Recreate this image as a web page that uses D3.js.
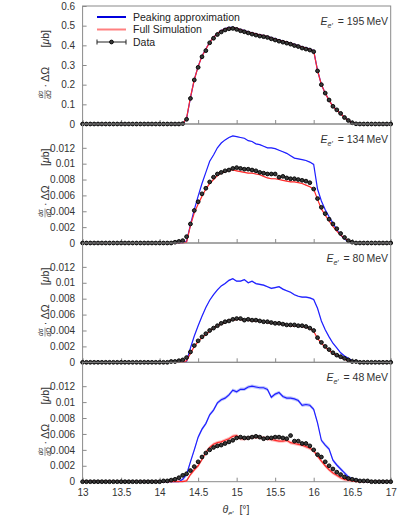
<!DOCTYPE html>
<html>
<head>
<meta charset="utf-8">
<script src="https://cdn.jsdelivr.net/npm/d3@7"></script>
<style>
  body { margin: 0; background: #fff; }
  svg { display: block; font-family: "Liberation Sans", Arial, sans-serif; }
</style>
</head>
<body>
<svg id="chart" width="399" height="515"></svg>
<script>
// Scattering angle grid (deg), one row of 10 per line
const theta = [
  13, 13.05, 13.1, 13.15, 13.2, 13.25, 13.3, 13.35, 13.4, 13.45,
  13.5, 13.55, 13.6, 13.65, 13.7, 13.75, 13.8, 13.85, 13.9, 13.95,
  14, 14.05, 14.1, 14.15, 14.2, 14.25, 14.3, 14.35, 14.4, 14.45,
  14.5, 14.55, 14.6, 14.65, 14.7, 14.75, 14.8, 14.85, 14.9, 14.95,
  15, 15.05, 15.1, 15.15, 15.2, 15.25, 15.3, 15.35, 15.4, 15.45,
  15.5, 15.55, 15.6, 15.65, 15.7, 15.75, 15.8, 15.85, 15.9, 15.95,
  16, 16.05, 16.1, 16.15, 16.2, 16.25, 16.3, 16.35, 16.4, 16.45,
  16.5, 16.55, 16.6, 16.65, 16.7, 16.75, 16.8, 16.85, 16.9, 16.95,
  17
];

const energies = ['195', '134', '80', '48'];
const yMaxes = [0.6, 0.015, 0.015, 0.015];
const yTicksTop = [0, 0.1, 0.2, 0.3, 0.4, 0.5, 0.6];
const yTicksLow = [0, 0.002, 0.004, 0.006, 0.008, 0.01, 0.012];
const xTicks = [13, 13.5, 14, 14.5, 15, 15.5, 16, 16.5, 17];
// half width of the simulation uncertainty bands
const bandHalf = [0, 0.00005, 0.0001, 0.00022];

// ---- E = 195 MeV
const data195 = [
  0, 0, 0, 0, 0, 0, 0, 0, 0, 0,
  0, 0, 0, 0, 0, 0, 0, 0, 0, 0,
  0, 0, 0, 0, 0, 0, 0.002, 0.024, 0.13, 0.224,
  0.288, 0.342, 0.373, 0.413, 0.436, 0.455, 0.468, 0.478, 0.484, 0.486,
  0.481, 0.474, 0.469, 0.463, 0.457, 0.452, 0.447, 0.444, 0.44, 0.433,
  0.427, 0.421, 0.416, 0.411, 0.406, 0.399, 0.394, 0.386, 0.381, 0.376,
  0.368, 0.27, 0.2, 0.157, 0.122, 0.09, 0.072, 0.054, 0.033, 0.018,
  0.006, 0.001, 0, 0, 0, 0, 0, 0, 0, 0,
  0
];
const sim195 = [
  0, 0, 0, 0, 0, 0, 0, 0, 0, 0,
  0, 0, 0, 0, 0, 0, 0, 0, 0, 0,
  0, 0, 0, 0, 0, 0, 0, 0.03, 0.135, 0.225,
  0.292, 0.345, 0.38, 0.415, 0.44, 0.46, 0.474, 0.484, 0.49, 0.49,
  0.486, 0.48, 0.474, 0.468, 0.463, 0.458, 0.453, 0.449, 0.444, 0.438,
  0.432, 0.427, 0.421, 0.416, 0.41, 0.404, 0.398, 0.392, 0.386, 0.381,
  0.372, 0.272, 0.2, 0.156, 0.12, 0.09, 0.07, 0.052, 0.033, 0.017,
  0.006, 0.001, 0, 0, 0, 0, 0, 0, 0, 0,
  0
];
const peak195 = [
  0, 0, 0, 0, 0, 0, 0, 0, 0, 0,
  0, 0, 0, 0, 0, 0, 0, 0, 0, 0,
  0, 0, 0, 0, 0, 0, 0, 0.028, 0.133, 0.226,
  0.293, 0.346, 0.381, 0.416, 0.441, 0.461, 0.475, 0.485, 0.491, 0.491,
  0.487, 0.481, 0.475, 0.469, 0.464, 0.459, 0.454, 0.45, 0.445, 0.439,
  0.433, 0.428, 0.422, 0.417, 0.411, 0.405, 0.399, 0.393, 0.387, 0.382,
  0.373, 0.273, 0.201, 0.157, 0.121, 0.091, 0.071, 0.053, 0.034, 0.018,
  0.006, 0.001, 0, 0, 0, 0, 0, 0, 0, 0,
  0
];

// ---- E = 134 MeV
const data134 = [
  0, 0, 0, 0, 0, 0, 0, 0, 0, 0,
  0, 0, 0, 0, 0, 0, 0, 0, 0, 0,
  0, 0, 0, 0, 0.0001, 0.0002, 0.0003, 0.0008, 0.0024, 0.0041,
  0.0052, 0.0062, 0.0069, 0.0077, 0.0083, 0.0087, 0.0089, 0.0091, 0.0092, 0.0094,
  0.0095, 0.0094, 0.0093, 0.0093, 0.0092, 0.0091, 0.0089, 0.0088, 0.0087, 0.0087,
  0.0087, 0.0083, 0.0084, 0.0082, 0.0081, 0.0081, 0.008, 0.0079, 0.0078, 0.0076,
  0.0068, 0.0056, 0.0045, 0.0037, 0.003, 0.0024, 0.0018, 0.0012, 0.0007, 0.0003,
  0.0001, 0, 0, 0, 0, 0, 0, 0, 0, 0,
  0
];
const sim134 = [
  0, 0, 0, 0, 0, 0, 0, 0, 0, 0,
  0, 0, 0, 0, 0, 0, 0, 0, 0, 0,
  0, 0, 0, 0, 0, 0, 0, 0.0001, 0.0022, 0.0038,
  0.0049, 0.0059, 0.0068, 0.0075, 0.008, 0.0085, 0.0088, 0.009, 0.0092, 0.0092,
  0.0091, 0.009, 0.0089, 0.0088, 0.0088, 0.0087, 0.0086, 0.0084, 0.0082, 0.0081,
  0.0081, 0.008, 0.0079, 0.0078, 0.0077, 0.0077, 0.0076, 0.0075, 0.0073, 0.0071,
  0.0068, 0.0055, 0.0043, 0.0035, 0.0028, 0.0021, 0.0015, 0.001, 0.0006, 0.0003,
  0.0001, 0, 0, 0, 0, 0, 0, 0, 0, 0,
  0
];
const peak134 = [
  0, 0, 0, 0, 0, 0, 0, 0, 0, 0,
  0, 0, 0, 0, 0, 0, 0, 0, 0, 0,
  0, 0, 0, 0, 0, 0, 0, 0.0002, 0.0023, 0.0042,
  0.0059, 0.0075, 0.0089, 0.0103, 0.0111, 0.012, 0.0126, 0.013, 0.0133, 0.0135,
  0.0134, 0.0133, 0.0132, 0.0129, 0.0128, 0.0125, 0.0124, 0.0122, 0.012, 0.012,
  0.0119, 0.0117, 0.0115, 0.0113, 0.011, 0.0107, 0.0106, 0.0105, 0.0104, 0.0102,
  0.0099, 0.0068, 0.0053, 0.0042, 0.0033, 0.0025, 0.0017, 0.001, 0.0005, 0.0002,
  0.0001, 0, 0, 0, 0, 0, 0, 0, 0, 0,
  0
];

// ---- E = 80 MeV
const data80 = [
  0, 0, 0, 0, 0, 0, 0, 0, 0, 0,
  0, 0, 0, 0, 0, 0, 0, 0, 0, 0,
  0, 0, 0, 0.0001, 0.0001, 0.0002, 0.0003, 0.0006, 0.0013, 0.0021,
  0.0027, 0.0032, 0.0036, 0.004, 0.0043, 0.0046, 0.0049, 0.0051, 0.0052, 0.0054,
  0.0055, 0.0055, 0.0053, 0.0054, 0.0053, 0.0053, 0.0052, 0.0051, 0.0051, 0.005,
  0.0049, 0.0049, 0.0048, 0.0047, 0.0047, 0.0047, 0.0046, 0.0046, 0.0045, 0.0043,
  0.004, 0.0031, 0.0025, 0.002, 0.0016, 0.0012, 0.0009, 0.0007, 0.0005, 0.0003,
  0.0001, 0.0001, 0, 0, 0, 0, 0, 0, 0, 0,
  0
];
const sim80 = [
  0, 0, 0, 0, 0, 0, 0, 0, 0, 0,
  0, 0, 0, 0, 0, 0, 0, 0, 0, 0,
  0, 0, 0, 0, 0, 0, 0, 0.0002, 0.0011, 0.002,
  0.0026, 0.0031, 0.0035, 0.0039, 0.0043, 0.0046, 0.0048, 0.005, 0.0053, 0.0053,
  0.0054, 0.0054, 0.0053, 0.0053, 0.0052, 0.0052, 0.0052, 0.0051, 0.005, 0.0049,
  0.005, 0.0048, 0.0048, 0.0047, 0.0046, 0.0046, 0.0046, 0.0045, 0.0044, 0.0043,
  0.0039, 0.003, 0.0024, 0.0019, 0.0015, 0.0011, 0.0009, 0.0006, 0.0004, 0.0002,
  0.0001, 0, 0, 0, 0, 0, 0, 0, 0, 0,
  0
];
const peak80 = [
  0, 0, 0, 0, 0, 0, 0, 0, 0, 0,
  0, 0, 0, 0, 0, 0, 0, 0, 0, 0,
  0, 0, 0, 0, 0, 0, 0, 0.0001, 0.0018, 0.0033,
  0.0046, 0.0058, 0.0069, 0.0078, 0.0085, 0.0091, 0.0096, 0.0099, 0.0103, 0.0105,
  0.0102, 0.0102, 0.0104, 0.01, 0.0102, 0.0099, 0.0098, 0.0097, 0.0095, 0.0093,
  0.0094, 0.0095, 0.0092, 0.009, 0.0088, 0.0085, 0.0083, 0.0082, 0.0082, 0.0081,
  0.0079, 0.0068, 0.0052, 0.0041, 0.0032, 0.0024, 0.0018, 0.0012, 0.0008, 0.0005,
  0.0002, 0.0001, 0, 0, 0, 0, 0, 0, 0, 0,
  0
];

// ---- E = 48 MeV
const data48 = [
  0, 0, 0, 0, 0, 0, 0, 0, 0, 0,
  0, 0, 0, 0, 0, 0, 0, 0, 0, 0,
  0, 0.0001, 0.0001, 0.0002, 0.0003, 0.0005, 0.0008, 0.001, 0.0014, 0.0019,
  0.0025, 0.0031, 0.0036, 0.004, 0.0043, 0.0045, 0.0046, 0.0048, 0.005, 0.0052,
  0.0055, 0.0056, 0.0055, 0.0055, 0.0056, 0.0057, 0.0056, 0.0054, 0.0055, 0.0055,
  0.0056, 0.0056, 0.0055, 0.0054, 0.0058, 0.0051, 0.0051, 0.0048, 0.0048, 0.0045,
  0.004, 0.0034, 0.0031, 0.0025, 0.002, 0.0016, 0.0012, 0.0009, 0.0006, 0.0004,
  0.0003, 0.0002, 0.0001, 0.0001, 0.0001, 0, 0, 0, 0, 0,
  0
];
const sim48 = [
  0, 0, 0, 0, 0, 0, 0, 0, 0, 0,
  0, 0, 0, 0, 0, 0, 0, 0, 0, 0,
  0, 0, 0, 0, 0, 0, 0, 0.0001, 0.0009, 0.0015,
  0.002, 0.0028, 0.0037, 0.0043, 0.0047, 0.0049, 0.005, 0.0052, 0.0054, 0.0057,
  0.0058, 0.0054, 0.0054, 0.0055, 0.0056, 0.0056, 0.0056, 0.0055, 0.0054, 0.0053,
  0.0052, 0.0051, 0.0051, 0.0052, 0.0049, 0.0048, 0.0047, 0.0046, 0.0044, 0.0042,
  0.0039, 0.0032, 0.0026, 0.002, 0.0015, 0.0011, 0.0008, 0.0005, 0.0003, 0.0002,
  0.0001, 0, 0, 0, 0, 0, 0, 0, 0, 0,
  0
];
const peak48 = [
  0, 0, 0, 0, 0, 0, 0, 0, 0, 0,
  0, 0, 0, 0, 0, 0, 0, 0, 0, 0,
  0, 0, 0, 0, 0, 0, 0.0003, 0.0009, 0.0025, 0.004,
  0.0056, 0.0066, 0.0073, 0.0084, 0.009, 0.0099, 0.0103, 0.0105, 0.0109, 0.0115,
  0.0113, 0.0116, 0.0116, 0.0119, 0.012, 0.0119, 0.0118, 0.0118, 0.0116, 0.0106,
  0.011, 0.0112, 0.0107, 0.0105, 0.0105, 0.0104, 0.0102, 0.0096, 0.0097, 0.0096,
  0.0091, 0.0074, 0.0052, 0.0046, 0.0041, 0.0027, 0.0021, 0.0016, 0.0011, 0.0006,
  0.0003, 0.0002, 0.0001, 0, 0, 0, 0, 0, 0, 0,
  0
];

const panels = [
  { energy: energies[0], data: data195, sim: sim195, peak: peak195, yMax: yMaxes[0], ticks: yTicksTop, band: bandHalf[0] },
  { energy: energies[1], data: data134, sim: sim134, peak: peak134, yMax: yMaxes[1], ticks: yTicksLow, band: bandHalf[1] },
  { energy: energies[2], data: data80, sim: sim80, peak: peak80, yMax: yMaxes[2], ticks: yTicksLow, band: bandHalf[2] },
  { energy: energies[3], data: data48, sim: sim48, peak: peak48, yMax: yMaxes[3], ticks: yTicksLow, band: bandHalf[3] }
];

// Layout
const left = 82.6;
const right = 390.7;
const tops = [6, 124, 243, 362.3];
const bottoms = [124, 243, 362.3, 481.7];

const blue = '#1f1fff';
const red = '#ff2a2a';
const frameColor = '#8a8a8a';
const textColor = '#333';

const svg = d3.select('#chart');

const x = d3.scaleLinear().domain([13, 17]).range([left, right]);

panels.forEach((p, k) => {
  const top = tops[k];
  const bottom = bottoms[k];
  const y = d3.scaleLinear().domain([0, p.yMax]).range([bottom, top]);
  const g = svg.append('g');

  // frame
  g.append('rect')
    .attr('x', left)
    .attr('y', top)
    .attr('width', right - left)
    .attr('height', bottom - top)
    .attr('fill', 'none')
    .attr('stroke', frameColor)
    .attr('stroke-width', 1);

  // y axis, ticks pointing inward
  const yAxis = g.append('g')
    .attr('transform', `translate(${left},0)`)
    .call(d3.axisLeft(y)
      .tickValues(p.ticks)
      .tickFormat(d3.format('~g'))
      .tickSizeInner(-4)
      .tickSizeOuter(0)
      .tickPadding(7.5));
  yAxis.select('.domain').remove();
  yAxis.selectAll('line').attr('stroke', frameColor);
  yAxis.selectAll('text')
    .attr('fill', textColor)
    .attr('font-size', 10)
    .attr('font-family', '"Liberation Sans", Arial, sans-serif');

  // x axis ticks on every panel, labels only on the last
  const last = k === panels.length - 1;
  const xAxis = g.append('g')
    .attr('transform', `translate(0,${bottom})`)
    .call(d3.axisBottom(x)
      .tickValues(xTicks)
      .tickFormat(last ? d3.format('~g') : () => '')
      .tickSizeInner(-4)
      .tickSizeOuter(0)
      .tickPadding(7));
  xAxis.select('.domain').remove();
  xAxis.selectAll('line').attr('stroke', frameColor);
  xAxis.selectAll('text')
    .attr('fill', textColor)
    .attr('font-size', 10)
    .attr('font-family', '"Liberation Sans", Arial, sans-serif');

  const idx = d3.range(theta.length);

  // uncertainty bands
  if (p.band > 0) {
    const area = arr => d3.area()
      .x(i => x(theta[i]))
      .y0(i => y(Math.max(0, arr[i] - p.band)))
      .y1(i => y(arr[i] + p.band));
    g.append('path')
      .datum(idx)
      .attr('d', area(p.peak))
      .attr('fill', '#aab4ff')
      .attr('opacity', 0.75);
    g.append('path')
      .datum(idx)
      .attr('d', area(p.sim))
      .attr('fill', '#ffaaaa')
      .attr('opacity', 0.75);
  }

  const line = arr => d3.line()
    .x(i => x(theta[i]))
    .y(i => y(arr[i]));

  g.append('path')
    .datum(idx)
    .attr('d', line(p.peak))
    .attr('fill', 'none')
    .attr('stroke', blue)
    .attr('stroke-width', 1.2);

  g.append('path')
    .datum(idx)
    .attr('d', line(p.sim))
    .attr('fill', 'none')
    .attr('stroke', red)
    .attr('stroke-width', 1.2);

  // data with horizontal bin bars
  g.selectAll('.xbar')
    .data(idx)
    .enter()
    .append('line')
    .attr('class', 'xbar')
    .attr('x1', i => x(theta[i] - 0.025))
    .attr('x2', i => x(theta[i] + 0.025))
    .attr('y1', i => y(p.data[i]))
    .attr('y2', i => y(p.data[i]))
    .attr('stroke', '#222')
    .attr('stroke-width', 0.8);

  g.selectAll('.pt')
    .data(idx)
    .enter()
    .append('circle')
    .attr('class', 'pt')
    .attr('cx', i => x(theta[i]))
    .attr('cy', i => y(p.data[i]))
    .attr('r', 1.9)
    .attr('fill', '#3a3a3a')
    .attr('stroke', '#000')
    .attr('stroke-width', 0.9);

  // energy label
  const lab = g.append('text')
    .attr('x', 388)
    .attr('y', top + 19)
    .attr('text-anchor', 'end')
    .attr('font-size', 10.5)
    .attr('fill', textColor);
  lab.append('tspan').attr('font-style', 'italic').text('E');
  lab.append('tspan').attr('font-style', 'italic').attr('font-size', 7).attr('dy', 2.5).text('e′');
  lab.append('tspan').attr('dy', -2.5).attr('dx', 2).text(' = ' + p.energy + '\u2009MeV');

  // y axis title
  const cy = (top + bottom) / 2;
  const yt = g.append('g')
    .attr('transform', `translate(45,${cy}) rotate(-90)`)
    .attr('fill', textColor);
  yt.append('text')
    .attr('x', -29.5).attr('y', -1.6)
    .attr('text-anchor', 'middle')
    .attr('font-size', 6.5)
    .attr('font-style', 'italic')
    .text('dσ');
  yt.append('line')
    .attr('x1', -34).attr('x2', -25)
    .attr('y1', 0).attr('y2', 0)
    .attr('stroke', textColor)
    .attr('stroke-width', 0.5);
  yt.append('text')
    .attr('x', -29.5).attr('y', 6.2)
    .attr('text-anchor', 'middle')
    .attr('font-size', 6.5)
    .attr('font-style', 'italic')
    .text('dΩ');
  yt.append('text')
    .attr('x', -22.5).attr('y', 3.8)
    .attr('font-size', 10.5)
    .text('· ΔΩ');
  const ub = yt.append('text')
    .attr('x', 17.5).attr('y', 3.8)
    .attr('font-size', 10.5);
  ub.append('tspan').text('[');
  ub.append('tspan').attr('font-style', 'italic').text('μ');
  ub.append('tspan').text('b]');
});

// Legend in the top panel
const legend = svg.append('g').attr('font-size', 10.5).attr('fill', '#222');
const lx0 = 97, lx1 = 126;

legend.append('line')
  .attr('x1', lx0).attr('x2', lx1).attr('y1', 17).attr('y2', 17)
  .attr('stroke', '#0000dd').attr('stroke-width', 2);
legend.append('text').attr('x', 133).attr('y', 17).attr('dy', '0.35em').text('Peaking approximation');

legend.append('line')
  .attr('x1', lx0).attr('x2', lx1).attr('y1', 29.5).attr('y2', 29.5)
  .attr('stroke', '#ff8080').attr('stroke-width', 2);
legend.append('text').attr('x', 133).attr('y', 29.5).attr('dy', '0.35em').text('Full Simulation');

legend.append('line')
  .attr('x1', lx0).attr('x2', lx1).attr('y1', 42).attr('y2', 42)
  .attr('stroke', '#222').attr('stroke-width', 1);
[lx0, lx1].forEach(cx => {
  legend.append('line')
    .attr('x1', cx).attr('x2', cx).attr('y1', 39.5).attr('y2', 44.5)
    .attr('stroke', '#222').attr('stroke-width', 1);
});
legend.append('circle')
  .attr('cx', (lx0 + lx1) / 2).attr('cy', 42).attr('r', 1.9)
  .attr('fill', '#3a3a3a').attr('stroke', '#000').attr('stroke-width', 0.9);
legend.append('text').attr('x', 133).attr('y', 42).attr('dy', '0.35em').text('Data');

// x axis title
const xt = svg.append('text')
  .attr('x', 236)
  .attr('y', 513)
  .attr('text-anchor', 'middle')
  .attr('font-size', 10.5)
  .attr('fill', textColor);
xt.append('tspan').attr('font-style', 'italic').text('θ');
xt.append('tspan').attr('font-style', 'italic').attr('font-size', 7).attr('dy', 2.5).text('e′');
xt.append('tspan').attr('dy', -2.5).attr('dx', 6).text('[°]');
</script>
</body>
</html>
